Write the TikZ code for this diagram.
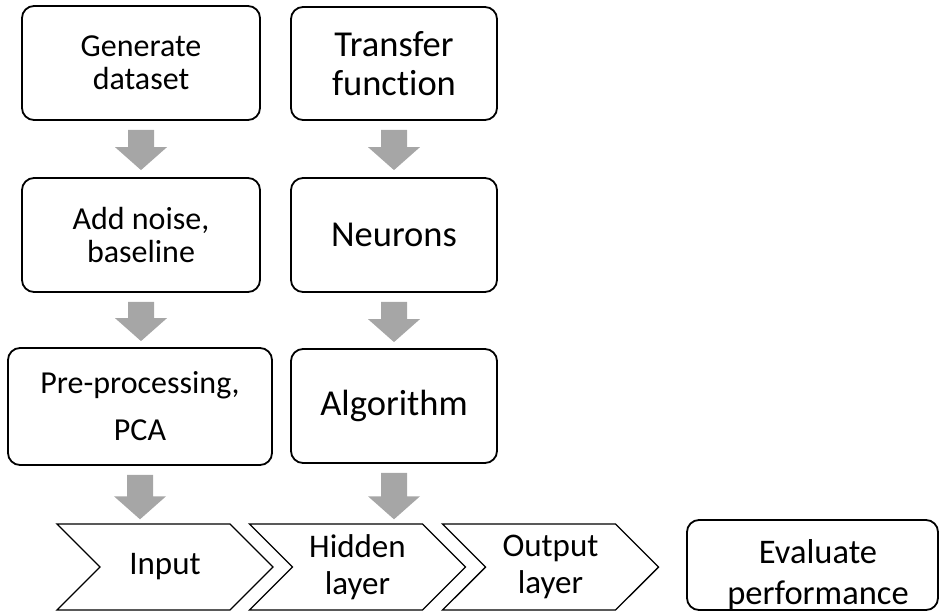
\documentclass[tikz,border=0pt]{standalone}
\usepackage{fontspec}
\setmainfont{Carlito}[Ligatures=NoCommon]
\usetikzlibrary{shapes.symbols}
\usetikzlibrary{calc}
\definecolor{arrowgray}{RGB}{166,166,166}
\tikzset{
  stepbox/.style={draw,black,line width=1.8pt,rounded corners=12pt,align=center,inner sep=0pt},
  layerbox/.style={draw,black,line width=1.4pt,signal,signal from=west,signal to=east,
    signal pointer angle=90,minimum width=216pt,minimum height=86pt,align=center,inner sep=0pt},
}
% grey block arrow from one node down to the next
\newcommand{\flowarrow}[3][6]{%
  \fill[arrowgray] ($(#2.south)+(-13,9)$) -- ($(#2.south)+(13,9)$)
    -- ($(#2.south |- #3.north)+(13,-#1-23)$) -- ($(#2.south |- #3.north)+(26,-#1-23)$)
    -- ($(#2.south |- #3.north)+(0,-#1)$)
    -- ($(#2.south |- #3.north)+(-26,-#1-23)$) -- ($(#2.south |- #3.north)+(-13,-#1-23)$) -- cycle;}
\begin{document}
\begin{tikzpicture}[x=1pt,y=-1pt]
\def\fl{\fontsize{32}{33}\selectfont}
\def\fr{\fontsize{36.5}{39}\selectfont}
\def\fc{\fontsize{33}{37}\selectfont}
\useasboundingbox (0,0) rectangle (940,615);
% data column
\node [stepbox, minimum width=238pt, minimum height=114pt, font=\fl, name=gen]   at (141,63)    {Generate\\dataset};
\node [stepbox, minimum width=238pt, minimum height=114pt, font=\fl, name=noise] at (141,235)   {Add noise,\\baseline};
\node [stepbox, minimum width=264pt, minimum height=117pt, font=\fontsize{32}{47}\selectfont, name=pre] at (140,406.5) {Pre-processing,\\PCA};
% network column
\node [stepbox, minimum width=206pt, minimum height=113pt, font=\fr, name=tf]    at (394,63.5)  {Transfer\\function};
\node [stepbox, minimum width=206pt, minimum height=114pt, font=\fr, name=neur]  at (394,235)   {Neurons};
\node [stepbox, minimum width=206pt, minimum height=114pt, font=\fr, name=algo]  at (394,406)   {Algorithm};
% layers
\node [layerbox, font=\fc, name=in]  at (165,567)   {Input};
\node [layerbox, font=\fc, name=hid] at (357.5,567) {Hidden\\layer};
\node [layerbox, font=\fc, name=out] at (550.5,567) {Output\\layer};
\node [stepbox, minimum width=251pt, minimum height=90pt, name=eval] at (812.5,565) {};
\node [align=center, inner sep=0pt, font=\fontsize{34.5}{41}\selectfont, name=evaltxt] at (818,575) {Evaluate\\performance};
% arrows
\flowarrow[7]{gen}{noise}
\flowarrow[6]{noise}{pre}
\flowarrow[4]{pre}{in}
\flowarrow[7]{tf}{neur}
\flowarrow[6]{neur}{algo}
\flowarrow[4]{algo}{hid}
\end{tikzpicture}
\end{document}
